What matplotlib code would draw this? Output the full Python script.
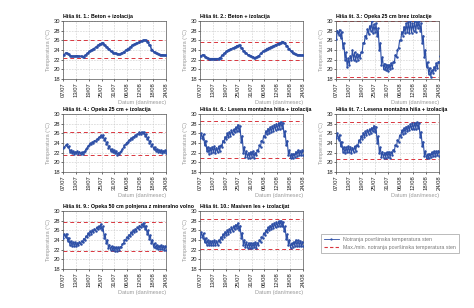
import numpy as np
import matplotlib.pyplot as plt

plt.rcParams["font.family"] = ["Liberation Sans Narrow", "Liberation Sans", "DejaVu Sans"]

# x ticks (day / month), one every 6 days from 07/07 to 24/08
tick_labels = ["07/07", "13/07", "19/07", "25/07", "31/07",
               "06/08", "12/08", "18/08", "24/08"]
tick_days = [0, 6, 12, 18, 24, 30, 36, 42, 48]

titles = [
    "Hiša št. 1.: Beton + izolacija",
    "Hiša št. 2.: Beton + izolacija",
    "Hiša št. 3.: Opeka 25 cm brez izolacije",
    "Hiša št. 4.: Opeka 25 cm + izolacija",
    "Hiša št. 6.: Lesena montažna hiša + izolacija",
    "Hiša št. 7.: Lesena montažna hiša + izolacija",
    "Hiša št. 9.: Opeka 50 cm polnjena z mineralno volno",
    "Hiša št. 10.: Masiven les + izolacijat",
]

# max / min surface temperature lines per house
t_max = [26.0, 25.7, 30.0, 26.3, 28.5, 28.4, 27.8, 28.3]
t_min = [22.4, 22.0, 18.4, 21.5, 20.8, 20.7, 21.7, 22.1]

# daily values (07/07 .. 24/08); smooth houses have one series
p1 = [23.0, 23.4, 23.2, 22.8, 22.7, 22.7, 22.8, 22.7, 22.7, 22.6, 22.9, 23.3, 23.7,
      24.0, 24.3, 24.6, 25.0, 25.3, 25.5, 25.0, 24.6, 24.2, 23.7, 23.4, 23.3, 23.2,
      23.1, 23.3, 23.6, 24.0, 24.3, 24.6, 25.0, 25.2, 25.4, 25.6, 25.8, 26.0, 26.0,
      25.7, 25.0, 24.1, 23.6, 23.3, 23.1, 23.0, 23.0, 22.9, 22.9]
p2 = [22.8, 23.0, 22.6, 22.3, 22.2, 22.2, 22.2, 22.2, 22.2, 22.4, 22.9, 23.3, 23.7,
      24.0, 24.2, 24.4, 24.6, 24.9, 25.0, 24.4, 23.8, 23.4, 23.0, 22.8, 22.6, 22.4,
      22.5, 22.8, 23.3, 23.7, 24.0, 24.3, 24.5, 24.7, 24.9, 25.1, 25.3, 25.5, 25.7,
      25.4, 24.9, 24.3, 23.8, 23.3, 23.1, 23.0, 23.0, 22.9, 23.0]
p4_hi = [23.1, 23.7, 23.3, 22.6, 22.3, 22.2, 22.3, 22.2, 22.1, 22.2, 22.7, 23.4, 23.9,
         24.2, 24.5, 24.8, 25.2, 25.6, 25.7, 25.0, 24.2, 23.4, 22.8, 22.5, 22.3, 22.0,
         22.1, 22.7, 23.5, 24.1, 24.6, 25.0, 25.3, 25.6, 25.9, 26.2, 26.3, 26.3, 25.9,
         25.2, 24.5, 23.7, 23.2, 22.8, 22.6, 22.5, 22.4, 22.5, 22.4]
p4_lo = [22.9, 23.5, 23.1, 22.2, 21.9, 21.8, 21.9, 21.8, 21.7, 21.8, 22.3, 23.0, 23.5,
         23.8, 24.1, 24.4, 24.8, 25.2, 25.3, 24.6, 23.8, 23.0, 22.4, 22.1, 21.9, 21.6,
         21.7, 22.3, 23.1, 23.7, 24.2, 24.6, 24.9, 25.2, 25.5, 25.8, 25.9, 26.1, 25.5,
         24.8, 24.1, 23.3, 22.8, 22.4, 22.2, 22.1, 22.0, 22.1, 22.0]

p3_hi = [28.0, 28.2, 27.8, 25.5, 23.5, 22.3, 22.8, 24.0, 23.5, 23.2, 23.0, 23.5, 25.5,
         27.0, 28.3, 29.0, 30.0, 29.3, 29.5, 28.5, 25.5, 22.5, 21.2, 21.0, 21.0, 21.3,
         21.5, 23.0, 24.0, 26.0, 27.8, 28.8, 29.5, 29.8, 30.0, 29.5, 30.0, 29.8, 30.0,
         29.5, 27.0, 24.0, 21.5, 20.3, 19.8, 20.5, 21.3, 21.5, 22.8]
p3_lo = [26.3, 27.2, 26.5, 24.5, 22.0, 20.5, 20.8, 22.0, 22.0, 21.8, 22.0, 22.3, 23.5,
         25.5, 26.5, 27.3, 28.0, 27.5, 27.8, 26.8, 24.0, 21.0, 20.0, 19.8, 19.6, 20.0,
         20.3, 21.5, 22.5, 24.5, 26.0, 27.0, 27.5, 27.8, 27.5, 27.6, 28.0, 27.8, 28.5,
         28.0, 25.5, 22.5, 20.5, 19.0, 18.5, 19.3, 19.8, 20.2, 21.5]

p6_hi = [26.0, 25.8, 24.5, 23.2, 23.0, 23.2, 23.3, 23.0, 23.3, 23.5, 24.5, 25.3, 26.0,
         26.3, 26.6, 26.8, 27.3, 27.8, 27.5, 25.5, 23.2, 22.3, 22.0, 22.2, 22.3, 22.0,
         22.5, 23.5, 24.5, 25.5, 26.5, 27.0, 27.3, 27.5, 27.8, 28.0, 28.2, 28.4, 28.2,
         26.5, 24.5, 22.5, 21.8, 21.8, 22.2, 22.5, 22.4, 22.5, 22.3]
p6_lo = [25.0, 24.8, 23.5, 22.3, 21.8, 22.0, 22.2, 22.0, 22.1, 22.4, 23.2, 24.2, 24.8,
         25.2, 25.5, 25.8, 26.2, 26.5, 26.4, 24.2, 22.0, 21.2, 21.0, 21.0, 21.2, 21.0,
         21.5, 22.3, 23.2, 24.2, 25.2, 25.8, 26.0, 26.3, 26.5, 26.7, 26.8, 27.0, 27.2,
         25.5, 23.5, 21.5, 20.8, 20.8, 21.2, 21.4, 21.5, 21.6, 21.5]

p7_hi = [26.0, 25.7, 24.3, 23.2, 23.1, 23.3, 23.2, 23.0, 23.3, 23.6, 24.6, 25.4, 26.1,
         26.4, 26.7, 26.9, 27.2, 27.6, 27.4, 25.4, 23.1, 22.2, 22.0, 22.1, 22.2, 22.1,
         22.6, 23.6, 24.6, 25.6, 26.6, 27.1, 27.4, 27.6, 27.9, 28.1, 28.2, 28.3, 28.1,
         26.3, 24.3, 22.3, 21.7, 21.8, 22.1, 22.3, 22.3, 22.4, 22.2]
p7_lo = [25.0, 24.7, 23.3, 22.2, 21.9, 22.1, 22.1, 22.0, 22.2, 22.4, 23.3, 24.3, 24.9,
         25.3, 25.6, 25.9, 26.1, 26.4, 26.3, 24.1, 21.9, 21.1, 21.0, 21.0, 21.1, 21.0,
         21.6, 22.4, 23.3, 24.3, 25.3, 25.9, 26.1, 26.4, 26.6, 26.8, 26.9, 27.0, 27.1,
         25.3, 23.3, 21.3, 20.8, 20.8, 21.1, 21.3, 21.4, 21.5, 21.4]

p9_hi = [25.2, 25.3, 24.5, 23.8, 23.5, 23.5, 23.4, 23.6, 23.8, 24.3, 24.8, 25.4, 25.8,
         26.0, 26.3, 26.6, 26.9, 27.3, 26.8, 25.2, 24.0, 23.0, 22.7, 22.6, 22.5, 22.5,
         22.6, 23.2, 24.0, 24.6, 25.1, 25.6, 26.0, 26.3, 26.6, 27.0, 27.3, 27.6, 27.0,
         26.0, 25.0, 24.0, 23.3, 23.0, 22.8, 22.9, 22.8, 22.7, 22.6]
p9_lo = [24.5, 24.6, 23.8, 23.0, 22.8, 22.8, 22.7, 22.9, 23.1, 23.6, 24.1, 24.7, 25.0,
         25.3, 25.6, 25.9, 26.2, 26.5, 26.0, 24.5, 23.3, 22.3, 22.0, 21.9, 21.8, 21.8,
         21.9, 22.5, 23.3, 23.9, 24.4, 24.9, 25.3, 25.6, 25.9, 26.3, 26.6, 26.9, 26.3,
         25.3, 24.3, 23.3, 22.6, 22.3, 22.1, 22.2, 22.1, 22.0, 21.9]

p10_hi = [25.6, 25.4, 24.4, 24.0, 23.8, 23.8, 23.9, 23.8, 24.0, 24.6, 25.2, 25.7, 26.0,
          26.3, 26.6, 26.9, 27.2, 27.5, 27.0, 25.5, 24.0, 23.5, 23.4, 23.4, 23.3, 23.5,
          23.4, 24.0, 24.6, 25.4, 26.0, 26.6, 27.0, 27.3, 27.5, 27.7, 27.9, 28.0, 27.8,
          26.8, 25.2, 24.0, 23.3, 23.6, 24.0, 23.9, 23.8, 23.6, 23.5]
p10_lo = [24.6, 24.5, 23.5, 23.0, 22.9, 22.9, 23.0, 22.9, 23.0, 23.6, 24.2, 24.7, 25.0,
          25.3, 25.6, 25.9, 26.2, 26.5, 26.0, 24.5, 23.0, 22.5, 22.4, 22.4, 22.3, 22.5,
          22.4, 23.0, 23.6, 24.4, 25.0, 25.6, 26.0, 26.2, 26.4, 26.6, 26.8, 27.0, 26.8,
          25.8, 24.2, 23.0, 22.4, 22.6, 22.8, 22.8, 22.8, 22.7, 22.7]

series = [(p1, p1), (p2, p2), (p3_hi, p3_lo), (p4_hi, p4_lo),
          (p6_hi, p6_lo), (p7_hi, p7_lo), (p9_hi, p9_lo), (p10_hi, p10_lo)]

BLUE = "#2d4fa6"
RED = "#d9363e"
GREY = "#9a9a9a"

W, H = 474, 308
col_left = [63, 200, 336]
row_top = [21, 114, 211]
ax_w, ax_h = 103, 58

fig = plt.figure(figsize=(W / 100, H / 100), dpi=100)

for i, (title, (hi, lo)) in enumerate(zip(titles, series)):
    r, c = divmod(i, 3)
    left = col_left[c] / W
    bottom = 1 - (row_top[r] + ax_h) / H
    ax = fig.add_axes([left, bottom, ax_w / W, ax_h / H])

    # lows in the early morning, highs in the afternoon
    days = np.arange(len(hi))
    t = np.column_stack([days + 0.2, days + 0.65]).ravel()
    y = np.column_stack([lo, hi]).ravel()
    lw = 1.1 if hi is lo else 0.8
    ax.plot(t, y, color=BLUE, lw=lw, marker=".", ms=1.6, zorder=3)

    ax.axhline(t_max[i], color=RED, lw=0.7, ls=(0, (4, 3)), zorder=2)
    ax.axhline(t_min[i], color=RED, lw=0.7, ls=(0, (4, 3)), zorder=2)

    ax.set_xlim(0, 48)
    ax.set_ylim(18, 30)
    ax.set_yticks(range(18, 31, 2))
    ax.set_xticks(tick_days)
    ax.set_xticklabels(tick_labels, rotation=90)
    ax.tick_params(labelsize=4.2, length=1.2, width=0.4, pad=1,
                   labelcolor="#222222")
    ax.grid(True, color="#c8c8c8", lw=0.4, ls=(0, (3, 2)))
    for s in ax.spines.values():
        s.set_linewidth(0.5)
        s.set_color("#555555")

    ax.set_title(title, loc="left", fontsize=3.8, fontweight="bold", pad=2.5)
    ax.set_ylabel("Temperatura (°C)", fontsize=4.0, color=GREY, labelpad=2)
    ax.set_xlabel("Datum (dan/mesec)", fontsize=4.0, color=GREY,
                  labelpad=2.5, loc="right")

# legend in the empty ninth slot
h1, = plt.plot([], [], color=BLUE, lw=0.6, marker=".", ms=1.2)
h2, = plt.plot([], [], color=RED, lw=0.8, ls=(0, (3, 2)))
leg = fig.legend([h1, h2],
                 ["Notranja površinska temperatura sten",
                  "Max./min. notranja površinska temperatura sten"],
                 loc="upper left", bbox_to_anchor=(318 / W, 1 - 231 / H),
                 fontsize=3.8, frameon=True, fancybox=False,
                 handlelength=2.8, borderpad=0.6, labelspacing=0.6)
leg.get_frame().set_linewidth(0.5)
leg.get_frame().set_edgecolor("#888888")
for txt in leg.get_texts():
    txt.set_color("#777777")

fig.savefig("out.png", dpi=100)
